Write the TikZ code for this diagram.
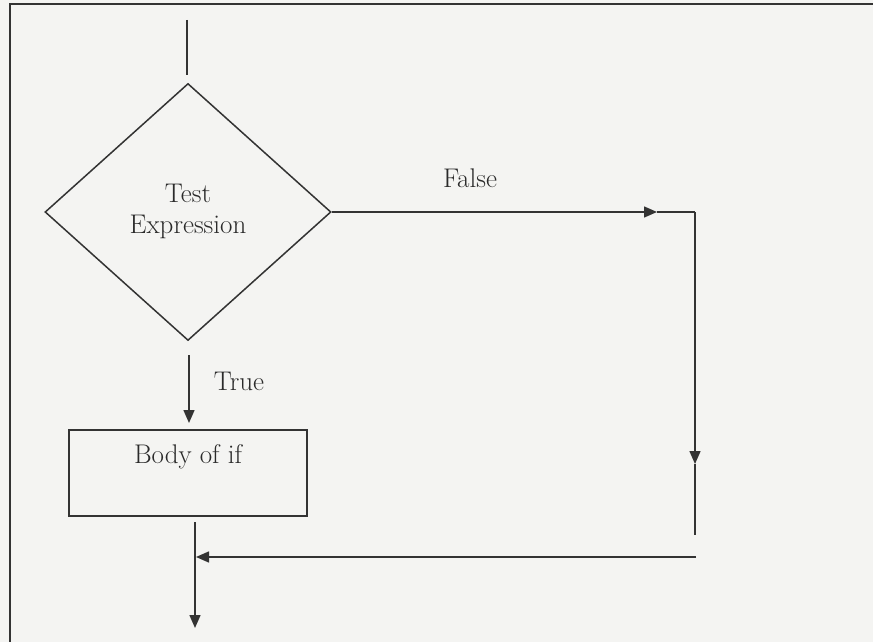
\documentclass[tikz,border=0pt]{standalone}
\usetikzlibrary{shapes.geometric,arrows.meta}
\definecolor{paper}{HTML}{F4F4F2}
\definecolor{ink}{HTML}{333333}
\definecolor{textink}{HTML}{2A2A2A}
\tikzset{
  line/.style={draw=ink, line width=1.5pt},
  tri/.style={line, -{Triangle[length=13pt,width=11pt]}},
  lbl/.style={text=textink, font=\fontsize{27}{31}\selectfont, inner sep=0pt, align=center},
}
\begin{document}
\begin{tikzpicture}[x=1pt,y=-1pt]
  \fill[paper] (0,0) rectangle (873,642);
  \useasboundingbox (0,0) rectangle (873,642);
  % frame (cropped page border)
  \coordinate (fl1) at (10,4);
  \coordinate (fl2) at (10,642);
  \coordinate (ft2) at (873,4);
  \draw[draw=ink, line width=2.2pt] (fl2) -- (fl1) -- (ft2);

  % diamond
  \node[diamond, line, minimum width=286pt, minimum height=257pt, inner sep=0pt] (d) at (188,212) {};
  \node[lbl] (dtxt) at (188,211) {Test\\Expression};

  % entry line
  \coordinate (s1) at (187,20);
  \coordinate (s2) at (187,75);
  \draw[line] (s1) -- (s2);

  % False branch
  \node[lbl] (false) at (470,178) {False};
  \coordinate (fmid) at (657,212);
  \coordinate (fr) at (695,212);
  \draw[tri] (d.east) -- (fmid);
  \draw[line] (fmid) -- (fr);
  \coordinate (vmid) at (695,464);
  \coordinate (vend) at (695,535);
  \draw[tri] (fr) -- (vmid);
  \draw[line] (vmid) -- (vend);
  \coordinate (hstart) at (696,557);
  \coordinate (join) at (196,557);
  \draw[tri] (hstart) -- (join);

  % True branch
  \coordinate (t1) at (189,355);
  \coordinate (t2) at (189,423);
  \draw[tri] (t1) -- (t2);
  \node[lbl] (true) at (239,381) {True};

  % body
  \node[rectangle, line, minimum width=238pt, minimum height=86pt, inner sep=0pt] (body) at (188,473) {};
  \node[lbl] (btxt) at (188,457) {Body of if};

  % exit
  \coordinate (b1) at (195,522);
  \coordinate (b2) at (195,628);
  \draw[tri] (b1) -- (b2);
\end{tikzpicture}
\end{document}
